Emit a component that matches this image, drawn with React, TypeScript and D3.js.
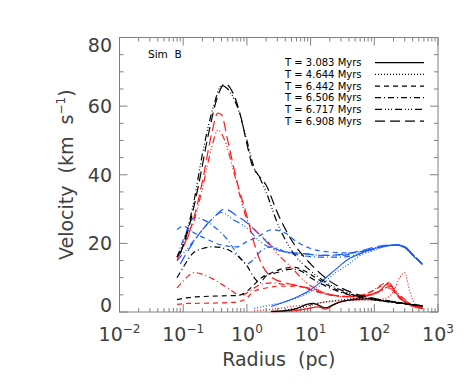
import React, { useEffect, useRef } from 'react'
import * as d3 from 'd3'

// legend times and line styles
const times = ['3.083', '4.644', '6.442', '6.506', '6.717', '6.908']
const dashes = ['', '1,2', '5,4', '6,3,1,3', '7,3,1,2,1,2,1,3', '10,5']
const colors = { black: '#000000', red: '#ff1a1a', blue: '#1a5cff' }

const yTicks = [0, 20, 40, 60, 80]
const xDecades = [-2, -1, 0, 1, 2, 3]

// black curves [radius pc, km/s]
const blackT1 = [[2.4,0.2],[4,0.4],[6,1],[9,2.3],[11,2.5],[14,1.8],[17,1.2],[22,2],[30,3],[50,3.6],[80,3.8],[150,3.2],[300,2.4],[450,2],[570,1.9]]
const blackT2 = [[4,0.5],[8,1.5],[15,2.8],[30,3.5],[60,4],[120,3.6],[250,2.8],[570,1.6]]
const blackT3 = [[0.08,3.6],[0.12,4.2],[0.2,4.5],[0.4,4.7],[0.7,4.8],[1,6],[1.3,8],[1.7,10],[2.5,11.5],[4,12.8],[5.5,13],[8,12],[12,10],[20,7.5],[35,5.5],[60,4.6],[120,3.5],[300,2.4],[570,1.7]]
const blackT4 = [[0.08,10],[0.1,13],[0.14,17],[0.2,18.5],[0.3,19],[0.45,18.5],[0.7,16.5],[1,13.5],[1.3,10],[1.6,8.5],[2,10.5],[3,11.5],[5,12.5],[7,12],[10,10],[20,7],[40,5],[100,3.5],[300,2.4],[570,1.8]]
const blackT5 = [[0.08,16],[0.1,20],[0.15,33],[0.2,46],[0.3,60],[0.4,66],[0.5,65],[0.7,60],[1,50],[1.3,42],[1.6,39],[2,35],[3,26],[5,18],[10,12],[20,8],[40,5.5],[100,3.6],[300,2.4],[570,1.8]]
const blackT6 = [[0.09,17],[0.12,24],[0.17,36],[0.25,52],[0.35,63],[0.45,66.5],[0.6,64],[0.8,57],[1,49],[1.2,43],[1.5,40],[2,37],[3,29],[5,21],[10,14],[20,9],[40,6],[100,4],[300,2.5],[570,1.8]]

// red curves
const redT1 = [[2.4,0.1],[5,0.3],[9,1],[13,1.5],[17,0.8],[25,2.5],[40,3.5],[70,4.5],[120,6],[170,8.5],[220,5.5],[300,3],[450,1.3],[570,1]]
const redT2 = [[1.3,0.3],[3,1],[6,1.8],[10,2.2],[20,3],[40,3.3],[80,3.4],[150,4],[200,6],[250,10],[300,11.5],[360,6],[450,2],[570,1]]
const redT3 = [[0.08,2.2],[0.12,2.5],[0.3,2.6],[0.6,2.8],[0.9,3.5],[1.3,6],[2,7],[3,7.5],[6,7.5],[10,6.5],[20,5],[40,4.5],[80,5.5],[160,8],[250,4.5],[400,2],[570,1]]
const redT4 = [[0.08,7],[0.1,9],[0.15,11.5],[0.2,11],[0.3,9.5],[0.5,7],[0.8,4.8],[1.2,6.5],[1.6,8],[2.5,8.5],[4,8],[7,7.5],[12,6],[20,5],[40,4.5],[80,5.5],[160,8.5],[250,4],[400,2],[570,1.2]]
const redT5 = [[0.08,16],[0.1,19],[0.15,27],[0.2,36],[0.28,48],[0.35,53],[0.45,50],[0.6,42],[0.8,33],[1,27],[1.4,23.5],[2,21],[3,17],[5,13],[8,9],[15,6],[30,4.5],[60,4.5],[120,6],[180,7.5],[250,5],[400,2],[570,1.3]]
const redT6 = [[0.08,15],[0.1,19],[0.15,28],[0.2,38],[0.28,52],[0.35,58],[0.4,57.5],[0.5,50],[0.7,38],[1,28],[1.3,20],[1.7,14],[2.5,10],[4,8.5],[7,7.5],[12,6.5],[20,5],[50,4.5],[100,5.5],[170,7],[250,4],[400,2],[570,1.5]]

// blue curves
const blueT1 = [[2.4,1.6],[4,3],[6,4.3],[10,6.5],[15,9],[25,12.5],[40,15.5],[60,17],[100,18.5],[160,19.3],[220,19.5],[300,18.8],[400,16.5],[570,13.8]]
const blueT2 = [[1.3,1],[2,1.8],[4,3],[8,5],[15,8],[25,11.5],[40,14],[60,16.5],[100,18],[160,19.2],[220,19.5],[300,18.7],[400,16.5],[570,14]]
const blueT3 = [[0.08,24],[0.1,25],[0.15,23],[0.25,21],[0.4,19.5],[0.7,19],[1,20.5],[1.5,22],[2.5,24],[4,23],[6,20.5],[10,18.5],[20,17.5],[40,17.2],[80,18],[150,19.2],[220,19.6],[300,19],[400,16.8],[570,14]]
const blueT4 = [[0.08,16],[0.1,21],[0.15,27.5],[0.2,27],[0.3,25],[0.5,21],[0.7,17],[1,14],[1.3,15.5],[1.7,18],[2.5,19],[4,17.5],[7,16.5],[15,16],[30,16],[60,17],[120,18.8],[220,19.6],[300,19],[400,16.8],[570,14]]
const blueT5 = [[0.08,15],[0.1,17],[0.15,21],[0.25,26],[0.4,29],[0.6,27],[1,24.5],[1.5,21],[2.5,18.5],[4,17.5],[8,17],[15,16.5],[30,16.5],[60,17.5],[120,19],[220,19.6],[300,19],[400,16.8],[570,14]]
const blueT6 = [[0.09,14],[0.12,18],[0.2,24],[0.3,27.5],[0.45,30],[0.7,28],[1,26],[1.5,23],[2.5,19],[4,17.5],[8,17],[15,16.5],[30,16.8],[60,17.8],[120,19.2],[220,19.6],[300,19],[400,16.8],[570,14]]

const series = [
  { color: colors.blue, t: 0, pts: blueT1 }, { color: colors.blue, t: 1, pts: blueT2 },
  { color: colors.blue, t: 2, pts: blueT3 }, { color: colors.blue, t: 3, pts: blueT4 },
  { color: colors.blue, t: 4, pts: blueT5 }, { color: colors.blue, t: 5, pts: blueT6 },
  { color: colors.red, t: 0, pts: redT1 }, { color: colors.red, t: 1, pts: redT2 },
  { color: colors.red, t: 2, pts: redT3 }, { color: colors.red, t: 3, pts: redT4 },
  { color: colors.red, t: 4, pts: redT5 }, { color: colors.red, t: 5, pts: redT6 },
  { color: colors.black, t: 0, pts: blackT1 }, { color: colors.black, t: 1, pts: blackT2 },
  { color: colors.black, t: 2, pts: blackT3 }, { color: colors.black, t: 3, pts: blackT4 },
  { color: colors.black, t: 4, pts: blackT5 }, { color: colors.black, t: 5, pts: blackT6 },
]

const W = 474, H = 388
const left = 119.5, right = 438, top = 37.5, bottom = 312
const font = 'DejaVu Sans, sans-serif'
const axisColor = '#808080'
const textColor = '#404040'

export default function App() {
  const ref = useRef<SVGSVGElement>(null)

  useEffect(() => {
    const svg = d3.select(ref.current)
    svg.selectAll('*').remove()

    const x = d3.scaleLog().domain([0.01, 1000]).range([left, right])
    const y = d3.scaleLinear().domain([0, 80]).range([bottom, top])

    // frame
    svg.append('rect')
      .attr('x', left).attr('y', top)
      .attr('width', right - left).attr('height', bottom - top)
      .attr('fill', 'none').attr('stroke', axisColor).attr('stroke-width', 1)

    const ticks = svg.append('g').attr('stroke', axisColor).attr('stroke-width', 1)

    // x ticks, log major + minor
    xDecades.forEach(d => {
      for (let m = 1; m <= 9; m++) {
        const v = m * Math.pow(10, d)
        if (v > 1000) break
        const len = m === 1 ? 8 : 4
        const px = x(v)
        ticks.append('line').attr('x1', px).attr('x2', px).attr('y1', bottom).attr('y2', bottom - len)
        ticks.append('line').attr('x1', px).attr('x2', px).attr('y1', top).attr('y2', top + len)
      }
    })

    // y ticks every 5, major every 20
    d3.range(0, 81, 5).forEach(v => {
      const len = v % 20 === 0 ? 8 : 4
      const py = y(v)
      ticks.append('line').attr('x1', left).attr('x2', left + len).attr('y1', py).attr('y2', py)
      ticks.append('line').attr('x1', right).attr('x2', right - len).attr('y1', py).attr('y2', py)
    })

    // y labels
    yTicks.forEach(v => {
      const nudge = v === 0 ? -7 : v === 80 ? 7 : 0
      svg.append('text')
        .attr('x', 112).attr('y', y(v) + nudge)
        .attr('text-anchor', 'end').attr('dominant-baseline', 'central')
        .attr('font-family', font).attr('font-size', 19).attr('fill', textColor)
        .text(v)
    })

    // x labels 10^n
    xDecades.forEach(d => {
      const t = svg.append('text')
        .attr('x', x(Math.pow(10, d))).attr('y', 341)
        .attr('text-anchor', 'middle')
        .attr('font-family', font).attr('font-size', 19).attr('fill', textColor)
      t.append('tspan').text('10')
      t.append('tspan').attr('dy', -8).attr('font-size', 12).text(d < 0 ? '\u2212' + (-d) : String(d))
    })

    // axis titles
    svg.append('text')
      .attr('x', (left + right) / 2).attr('y', 366)
      .attr('text-anchor', 'middle')
      .attr('font-family', font).attr('font-size', 19).attr('fill', textColor)
      .style('white-space', 'pre')
      .text('Radius  (pc)')

    const yt = svg.append('text')
      .attr('transform', `translate(73,${(top + bottom) / 2}) rotate(-90)`)
      .attr('text-anchor', 'middle')
      .attr('font-family', font).attr('font-size', 19).attr('fill', textColor)
      .style('white-space', 'pre')
    yt.append('tspan').text('Velocity  (km  s')
    yt.append('tspan').attr('dy', -8).attr('font-size', 12).text('\u22121')
    yt.append('tspan').attr('dy', 8).text(')')

    // curves
    const line = d3.line<number[]>()
      .x(d => x(d[0]))
      .y(d => y(d[1]))
      .curve(d3.curveMonotoneX)

    series.forEach(s => {
      svg.append('path')
        .attr('d', line(s.pts))
        .attr('fill', 'none')
        .attr('stroke', s.color)
        .attr('stroke-width', 1.2)
        .attr('stroke-dasharray', dashes[s.t] || null)
    })

    // label
    svg.append('text')
      .attr('x', 148).attr('y', 58)
      .attr('font-family', font).attr('font-size', 10.5).attr('fill', '#000')
      .style('white-space', 'pre')
      .text('Sim  B')

    // legend
    times.forEach((t, i) => {
      const ly = 62.7 + i * 11.67
      svg.append('text')
        .attr('x', 285).attr('y', ly)
        .attr('dominant-baseline', 'central')
        .attr('font-family', font).attr('font-size', 10).attr('fill', '#000')
        .text(`T = ${t} Myrs`)
      svg.append('line')
        .attr('x1', 375).attr('x2', 424).attr('y1', ly).attr('y2', ly)
        .attr('stroke', '#000').attr('stroke-width', 1.2)
        .attr('stroke-dasharray', dashes[i] || null)
    })
  }, [])

  return (
    <svg ref={ref} width={W} height={H}
      style={{ position: 'absolute', left: 0, top: 0, background: '#fff' }} />
  )
}
